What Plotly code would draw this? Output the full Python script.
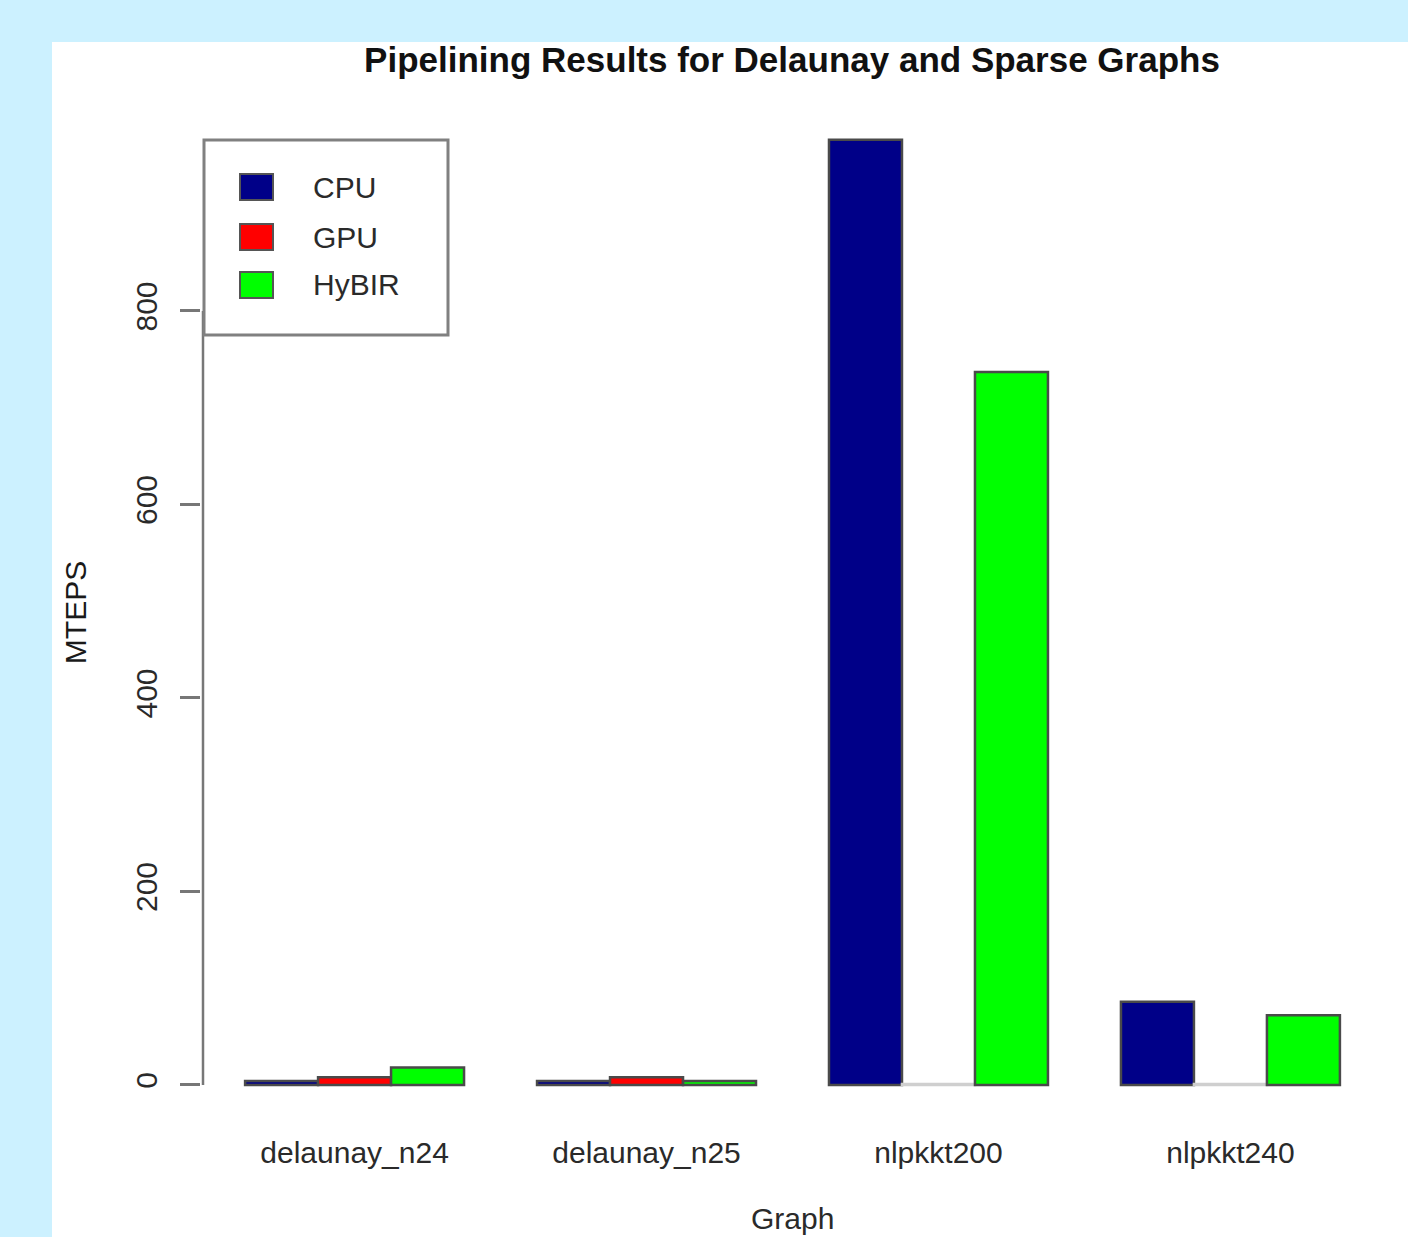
import plotly.graph_objects as go

# ---- data ----
graphs = ["delaunay_n24", "delaunay_n25", "nlpkkt200", "nlpkkt240"]
series_names = ["CPU", "GPU", "HyBIR"]
cpu_mteps = [4, 4, 977, 86]
gpu_mteps = [8, 8, 1, 1]
hybir_mteps = [18, 4, 737, 72]
y_tick_values = [0, 200, 400, 600, 800]
y_tick_labels = ["0", "200", "400", "600", "800"]
x_title = "Graph"
y_title = "MTEPS"

# ---- style ----
series_colors = ["#000088", "#FF0000", "#00FF00"]
W, H = 1408, 1237
L, R, T, B = 201, 24, 102, 114
PW, PH = W - L - R, H - T - B


def px(x):
    return (x - L) / PW


def py(y):
    return (H - B - y) / PH


fig = go.Figure()
outline = "#4a4a4a"
gpu_line = [outline, outline, "#cfcfcf", "#cfcfcf"]
for name, vals, col in zip(series_names, [cpu_mteps, gpu_mteps, hybir_mteps], series_colors):
    fig.add_trace(go.Bar(
        x=graphs, y=vals, name=name,
        marker=dict(color=col, line=dict(color=gpu_line if name == "GPU" else outline, width=2.5)),
        showlegend=False,
    ))

font_fam = "Liberation Sans, Arial, sans-serif"

fig.update_layout(
    width=W, height=H,
    margin=dict(l=L, r=R, t=T, b=B, pad=0, autoexpand=False),
    paper_bgcolor="#CCF1FF",
    plot_bgcolor="rgba(0,0,0,0)",
    barmode="group", bargap=0.25, bargroupgap=0,
    font=dict(family=font_fam, color="#222222", size=30),
    title=dict(
        text="<b>Pipelining Results for Delaunay and Sparse Graphs</b>",
        x=px(792), xref="paper", xanchor="center",
        y=1 - 60 / H, yref="container", yanchor="middle",
        font=dict(size=35, color="#111111", family=font_fam),
    ),
    xaxis=dict(
        automargin=False,
        range=[-0.526, 3.526], showgrid=False, zeroline=False, showline=False,
        ticks="", ticklabelstandoff=9, tickfont=dict(size=30, color="#2a2a2a"),
    ),
    yaxis=dict(
        automargin=False,
        range=[-39.3, 1016], showgrid=False, zeroline=False, showline=False,
        tickmode="array", tickvals=y_tick_values, ticktext=y_tick_labels,
        ticks="outside", ticklen=20, tickwidth=2.5, tickcolor="#777777",
        tickangle=-90, ticklabelstandoff=11,
        tickfont=dict(size=30, color="#2a2a2a"),
        title=dict(text=y_title, standoff=34, font=dict(size=30, color="#1a1a1a")),
    ),
)

shapes = [
    # white panel
    dict(type="rect", xref="paper", yref="paper", x0=px(52), x1=px(W), y0=py(H), y1=py(42),
         fillcolor="white", line=dict(width=0), layer="below"),
    # y axis line (R style: spans first to last tick)
    dict(type="line", xref="paper", yref="y", x0=px(203), x1=px(203), y0=y_tick_values[0], y1=y_tick_values[-1],
         line=dict(color="#777777", width=2.5)),
    # legend box
    dict(type="rect", xref="paper", yref="paper", x0=px(204), x1=px(448), y0=py(335), y1=py(140),
         fillcolor="white", line=dict(color="#808080", width=3)),
]
annotations = [
    dict(text=x_title, xref="paper", yref="paper", x=0.5, y=py(1218),
         xanchor="center", yanchor="middle", showarrow=False,
         font=dict(size=30, color="#2a2a2a", family=font_fam)),
]
legend_centers = [187, 237, 285]
for name, col, cy in zip(series_names, series_colors, legend_centers):
    shapes.append(dict(type="rect", xref="paper", yref="paper", x0=px(240), x1=px(273),
                       y0=py(cy + 13), y1=py(cy - 13), fillcolor=col,
                       line=dict(color="#555555", width=2)))
    annotations.append(dict(text=name, xref="paper", yref="paper", x=px(311), y=py(cy),
                            xanchor="left", yanchor="middle", showarrow=False,
                            font=dict(size=30, color="#2a2a2a", family=font_fam)))
fig.update_layout(shapes=shapes, annotations=annotations)

fig.write_html(
    "out.html",
    config={"displayModeBar": False},
    post_script=(
        "document.documentElement.style.margin='0';document.documentElement.style.padding='0';"
        "document.documentElement.style.overflow='hidden';"
        "document.body.style.margin='0';document.body.style.padding='0';"
        "document.body.style.overflow='hidden';document.body.style.background='#CCF1FF';"
    ),
)
